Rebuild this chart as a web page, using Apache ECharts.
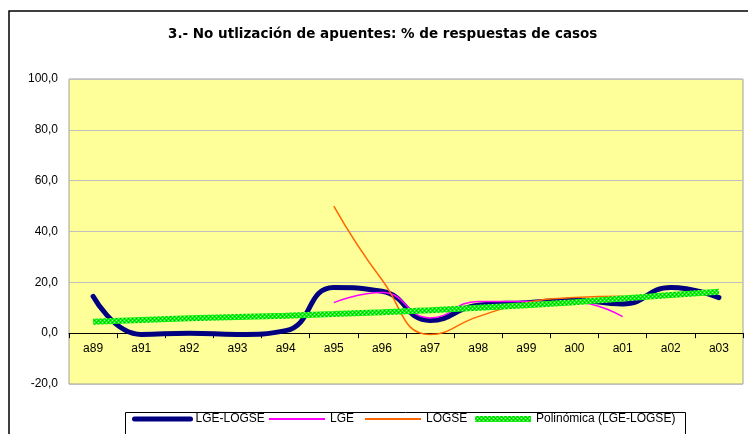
<!DOCTYPE html>
<html>
<head>
<meta charset="utf-8">
<script src="https://cdn.jsdelivr.net/npm/echarts@6/dist/echarts.min.js"></script>
<style>
  html, body { margin: 0; padding: 0; background: #fff; }
  #chart { width: 748px; height: 434px; }
</style>
</head>
<body>
<div id="chart"></div>
<script>
// años (falta a90 en el original)
var categories = ['a89','a91','a92','a93','a94','a95','a96','a97','a98','a99','a00','a01','a02','a03'];
var lgeLogse = [14.5, -0.5, 0, -0.5, 1, 18, 16.5, 5, 11, 12, 13, 11.5, 18, 14];
var lge = [null, null, null, null, null, 12, 16, 6, 12.5, 12.5, 12.3, 6.5, null, null];
var logse = [null, null, null, null, null, 50, 21, -0.5, 6.5, 12, 14, 14.5, null, null];
var polinomica = [4.5, 5.2, 5.9, 6.4, 6.9, 7.5, 8.2, 9, 10, 11, 12.2, 13.6, 15, 16.3];
var yTicks = [-20, 0, 20, 40, 60, 80, 100];

// trama verde de la linea de tendencia
function greenPattern() {
  var c = document.createElement('canvas');
  c.width = 4; c.height = 4;
  var g = c.getContext('2d');
  g.fillStyle = '#11f011';
  g.fillRect(0, 0, 4, 4);
  g.fillStyle = '#aaffaa';
  g.fillRect(0, 0, 1, 1);
  g.fillRect(2, 2, 1, 1);
  g.fillStyle = '#00b800';
  g.fillRect(2, 0, 1, 1);
  g.fillRect(0, 2, 1, 1);
  return { image: c, repeat: 'repeat' };
}

var font = 'Liberation Sans, Arial, sans-serif';
var gridTop = 79, gridBottom = 50, chartH = 434;
var plotH = chartH - gridTop - gridBottom;
// el eje x cruza en 0
var zeroOffset = -plotH * (0 - yTicks[0]) / (yTicks[yTicks.length - 1] - yTicks[0]);

var myChart = echarts.init(document.getElementById('chart'), null, { renderer: 'canvas' });

function legendAt(name, left, width) {
  return {
    data: [name],
    left: left,
    top: 413,
    padding: 0,
    itemWidth: 56,
    itemHeight: 14,
    itemStyle: { opacity: 0 },
    lineStyle: width ? { width: width } : {},
    textStyle: { fontFamily: font, fontSize: 12, color: '#000' },
    selectedMode: false
  };
}

var option = {
  animation: false,
  title: {
    text: '3.- No utlización de apuentes: % de respuestas de casos',
    left: 163,
    top: 22,
    textStyle: { fontFamily: 'DejaVu Sans, sans-serif', fontSize: 13.5, fontWeight: 'bold', color: '#000' }
  },
  graphic: [
    { type: 'rect', z: -10, shape: { x: 9, y: 11, width: 900, height: 600 },
      style: { fill: 'none', stroke: '#000', lineWidth: 1.5 } },
    { type: 'rect', z: -10, shape: { x: 125.5, y: 412.5, width: 560, height: 60 },
      style: { fill: 'none', stroke: '#000', lineWidth: 1 } }
  ],
  legend: [
    legendAt('LGE-LOGSE', 132, 5),
    legendAt('LGE', 268),
    legendAt('LOGSE', 364),
    legendAt('Polinómica (LGE-LOGSE)', 472, 6)
  ],
  grid: {
    left: 69, right: 5, top: gridTop, bottom: gridBottom,
    show: true,
    backgroundColor: '#ffff99',
    borderColor: '#a0a0a0',
    borderWidth: 1
  },
  xAxis: {
    type: 'category',
    data: categories,
    boundaryGap: true,
    offset: zeroOffset,
    axisLine: { onZero: false, lineStyle: { color: '#000', width: 1 } },
    axisTick: { show: true, length: 5, lineStyle: { color: '#000' } },
    axisLabel: { fontFamily: font, fontSize: 12, color: '#000', margin: 10 }
  },
  yAxis: {
    type: 'value',
    min: yTicks[0],
    max: yTicks[yTicks.length - 1],
    interval: 20,
    axisLine: { show: false },
    axisTick: { show: false },
    splitLine: { lineStyle: { color: '#c0c0c0', width: 1 } },
    axisLabel: {
      fontFamily: font, fontSize: 12, color: '#000', margin: 11,
      formatter: function (v) { return v.toFixed(1).replace('.', ','); }
    }
  },
  series: [
    {
      name: 'LGE-LOGSE', type: 'line', data: lgeLogse,
      smooth: 0.5, symbol: 'none',
      lineStyle: { color: '#000080', width: 5, cap: 'round' },
      itemStyle: { color: '#000080' }
    },
    {
      name: 'LGE', type: 'line', data: lge,
      smooth: 0.5, symbol: 'none',
      lineStyle: { color: '#ff00ff', width: 1.5 },
      itemStyle: { color: '#ff00ff' }
    },
    {
      name: 'LOGSE', type: 'line', data: logse,
      smooth: 0.5, symbol: 'none',
      lineStyle: { color: '#ff6600', width: 1.5 },
      itemStyle: { color: '#ff6600' }
    },
    {
      name: 'Polinómica (LGE-LOGSE)', type: 'line', data: polinomica,
      smooth: false, symbol: 'none',
      lineStyle: { color: greenPattern(), width: 6 },
      itemStyle: { color: '#11f011' }
    }
  ]
};
myChart.setOption(option);
</script>
</body>
</html>
